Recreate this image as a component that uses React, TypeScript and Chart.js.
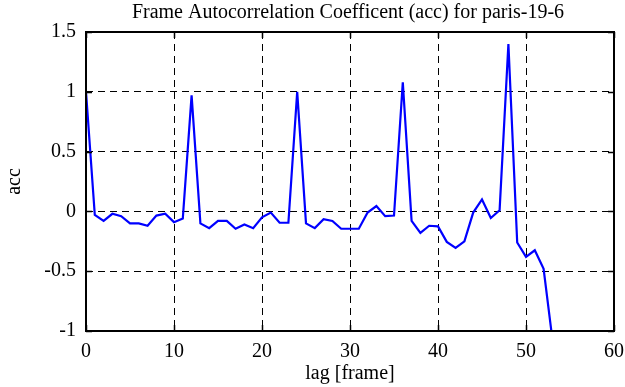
import React, { useEffect, useRef } from "react";
import { Chart, registerables } from "chart.js";
Chart.register(...registerables);

const lags = [
  0, 1, 2, 3, 4, 5, 6, 7, 8, 9, 10, 11, 12, 13, 14, 15, 16, 17, 18, 19, 20, 21, 22, 23, 24, 25, 26,
  27, 28, 29, 30, 31, 32, 33, 34, 35, 36, 37, 38, 39, 40, 41, 42, 43, 44, 45, 46, 47, 48, 49, 50,
  51, 52, 53,
];
const acc = [
  1.0, -0.03, -0.08, -0.02, -0.04, -0.1, -0.1, -0.12, -0.035, -0.02, -0.09, -0.06, 0.97, -0.1,
  -0.14, -0.08, -0.08, -0.145, -0.11, -0.14, -0.05, -0.01, -0.095, -0.095, 1.0, -0.1, -0.14,
  -0.065, -0.08, -0.145, -0.145, -0.145, -0.01, 0.045, -0.04, -0.035, 1.08, -0.08, -0.18, -0.12,
  -0.125, -0.255, -0.305, -0.25, -0.01, 0.1, -0.055, 0.01, 1.4, -0.26, -0.38, -0.325, -0.48, -1.07,
];
const xTicks = [0, 10, 20, 30, 40, 50, 60];
const yTicks = [-1, -0.5, 0, 0.5, 1, 1.5];

const titleText = "Frame Autocorrelation Coefficent (acc) for paris-19-6";
const xTitle = "lag [frame]";
const yTitle = "acc";

const FONT = "'Liberation Serif', 'DejaVu Serif', serif";

const framePlugin = {
  id: "frame",
  afterDraw(chart: any) {
    const { ctx, chartArea: a, scales } = chart;
    const xs = scales.x;
    const ys = scales.y;
    ctx.save();
    ctx.setLineDash([]);
    ctx.strokeStyle = "#000";
    ctx.lineWidth = 2;
    ctx.strokeRect(a.left, a.top, a.right - a.left, a.bottom - a.top);
    ctx.lineWidth = 1.5;
    const L = 6;
    ctx.beginPath();
    for (const v of xTicks) {
      const px = Math.round(xs.getPixelForValue(v)) + 0.5;
      ctx.moveTo(px, a.bottom);
      ctx.lineTo(px, a.bottom - L);
      ctx.moveTo(px, a.top);
      ctx.lineTo(px, a.top + L);
    }
    for (const v of yTicks) {
      const py = Math.round(ys.getPixelForValue(v)) + 0.5;
      ctx.moveTo(a.left, py);
      ctx.lineTo(a.left + L, py);
      ctx.moveTo(a.right, py);
      ctx.lineTo(a.right - L, py);
    }
    ctx.stroke();
    // title centred over the plot area
    ctx.fillStyle = "#000";
    ctx.font = `20px ${FONT}`;
    ctx.textAlign = "center";
    ctx.textBaseline = "alphabetic";
    ctx.fillText(titleText, (a.left + a.right) / 2 - 2, 18);
    ctx.restore();
  },
};

export default function App() {
  const ref = useRef<HTMLCanvasElement | null>(null);
  useEffect(() => {
    document.body.style.margin = "0";
    const canvas = ref.current;
    if (!canvas) return;
    const chart = new Chart(canvas, {
      type: "line",
      data: {
        datasets: [
          {
            data: lags.map((l, i) => ({ x: l, y: acc[i] })),
            borderColor: "#0000ff",
            borderWidth: 2.2,
            pointRadius: 0,
            fill: false,
            tension: 0,
          },
        ],
      },
      options: {
        animation: false,
        responsive: false,
        maintainAspectRatio: false,
        layout: { padding: { left: 0, right: 11, top: 32, bottom: 0 } },
        plugins: {
          legend: { display: false },
          tooltip: { enabled: false },
          title: { display: false },
        },
        scales: {
          x: {
            type: "linear",
            min: 0,
            max: 60,
            afterBuildTicks: (s: any) => {
              s.ticks = xTicks.map((v) => ({ value: v }));
            },
            afterFit: (s: any) => {
              s.height = 56;
              s.paddingLeft = 0;
              s.paddingRight = 0;
            },
            ticks: {
              color: "#000",
              font: { family: FONT, size: 20 },
              padding: 9,
              maxRotation: 0,
              autoSkip: false,
            },
            grid: { color: "#000", lineWidth: 1, drawTicks: false },
            border: { display: false, dash: [7, 5] },
            title: {
              display: true,
              text: xTitle,
              color: "#000",
              font: { family: FONT, size: 20 },
              padding: { top: 0, bottom: 1 },
            },
          },
          y: {
            type: "linear",
            min: -1,
            max: 1.5,
            afterBuildTicks: (s: any) => {
              s.ticks = yTicks.map((v) => ({ value: v }));
            },
            afterFit: (s: any) => {
              s.width = 86;
              s.paddingTop = 0;
              s.paddingBottom = 0;
            },
            ticks: {
              color: "#000",
              font: { family: FONT, size: 20 },
              padding: 10,
              autoSkip: false,
              callback: (v: any) => String(Number(v)),
            },
            grid: { color: "#000", lineWidth: 1, drawTicks: false },
            border: { display: false, dash: [7, 5] },
            title: {
              display: true,
              text: yTitle,
              color: "#000",
              font: { family: FONT, size: 20 },
              padding: { top: 3, bottom: 0 },
            },
          },
        },
      },
      plugins: [framePlugin],
    });
    return () => chart.destroy();
  }, []);
  return (
    <div style={{ width: 625, height: 387 }}>
      <canvas ref={ref} width={625} height={387} style={{ display: "block" }} />
    </div>
  );
}
